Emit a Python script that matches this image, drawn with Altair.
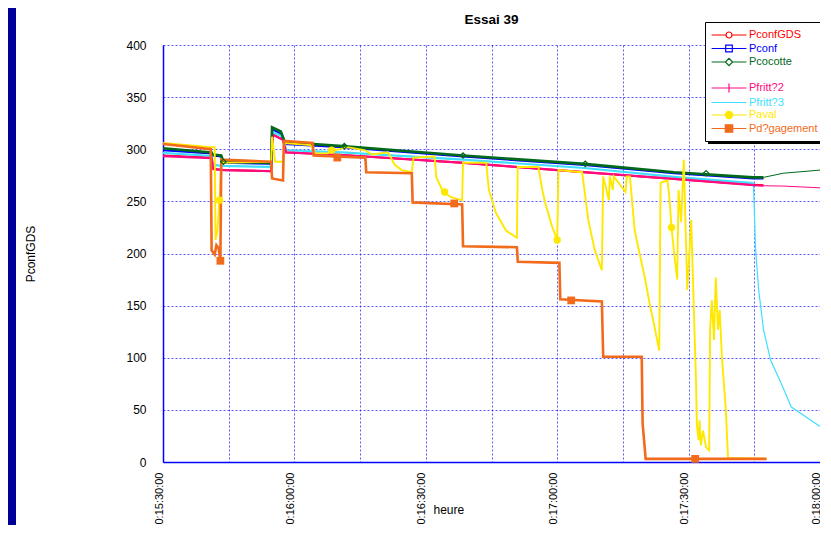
import json
import altair as alt
import pandas as pd

# ---------------- data (x = minutes after 0:15:30:00) ----------------
SERIES = ["PconfGDS", "Pconf", "Pcocotte", " ", "Pfritt?2", "Pfritt?3", "Paval", "Pd?gagement"]
COLORS = ["#ff0000", "#0000ff", "#006a1a", "#ffffff", "#ff0a80", "#40dfff", "#ffe800", "#f26a1b"]

X_GRID = [0, 15, 30, 45, 60, 75, 90, 105, 120, 135, 150]
X_TICK_LABELS = ["0:15:30:00", "0:16:00:00", "0:16:30:00", "0:17:00:00", "0:17:30:00", "0:18:00:00"]
Y_TICKS = [0, 50, 100, 150, 200, 250, 300, 350, 400]

PCONFGDS_T = [0, 11.1, 11.5, 13.8, 24.7, 25.1, 27.4, 28.1, 40.9, 68.5, 96.2, 116.7, 134.8, 137.1]
PCONFGDS_V = [294, 292, 281, 280, 279, 314, 309, 297, 294.5, 287, 278, 271.5, 266, 265.5]

PCONF_T = [0, 11.1, 11.3, 13.3, 13.8, 24.7, 24.9, 26.9, 27.8, 40.9, 68.5, 96.2, 116.7, 134.8, 137.1]
PCONF_V = [299, 296, 294, 293, 287, 286, 319, 315, 305, 302, 293, 285, 277, 272, 272]

PCOCOTTE_T = [0, 11.1, 11.3, 13.3, 13.8, 24.7, 24.9, 26.9, 27.8, 40.9, 68.5, 96.2, 116.7, 134.8, 137.1]
PCOCOTTE_V = [301, 297, 295, 294, 288, 287, 321, 317, 307, 303, 294, 286, 278, 273, 273]
PCOCOTTE_TAIL_T = [137.1, 141.6, 150]
PCOCOTTE_TAIL_V = [273, 277, 280]

PFRITT2_T = [0, 11.1, 11.5, 13.8, 24.7, 25.1, 27.4, 28.1, 40.9, 68.5, 96.2, 116.7, 134.8, 137.1]
PFRITT2_V = [293.5, 291.5, 281, 280, 279, 314, 309, 297, 294.5, 287, 278, 271.5, 265.5, 265]
PFRITT2_TAIL_T = [137.1, 141.6, 150]
PFRITT2_TAIL_V = [265, 264.7, 263]

PFRITT3_T = [0, 11.1, 11.3, 13.8, 24.7, 25.1, 27.4, 28.1, 40.9, 68.5, 96.2, 116.7, 134.8]
PFRITT3_V = [296.5, 293.5, 285, 284, 283, 316.5, 312, 299, 297, 290, 282, 273.5, 267.5]
PFRITT3_TAIL_T = [134.8, 135.3, 136.0, 137.1, 138.7, 141.6, 143.4, 150]
PFRITT3_TAIL_V = [267.5, 203, 165, 127, 98, 71, 53, 34]

PAVAL_T = [0, 10.9, 11.8, 12.0, 12.4, 12.9, 13.3, 24.7, 24.9, 25.6, 27.4, 27.6, 33.7, 34.8,
           37.6, 39.1, 42.1, 46.2, 47.7, 51.4, 52.9, 54.5, 56.8, 57.2, 62.0, 62.4, 64.0, 65.8,
           68.3, 68.5, 73.8, 74.4, 76.0, 78.3, 80.8, 81.0, 85.7, 86.6, 87.3, 88.9, 90.0, 90.3,
           95.7, 97.1, 98.6, 100.2, 100.5, 101.8, 102.0, 102.7, 102.9, 105.6, 105.9, 106.6,
           107.7, 108.8, 110.0, 111.1, 112.2, 113.3, 113.6, 115.2, 115.6, 116.1, 116.7, 117.4,
           117.7, 118.3, 118.9, 119.7, 120.1, 120.6, 121.2, 121.7, 121.9, 122.3, 122.5, 122.8,
           123.3, 124.0, 124.7, 124.9, 125.3, 125.8, 126.2, 126.7, 127.1, 127.6, 128.5, 129.0,
           137.8]
PAVAL_V = [306, 302, 302, 213, 222, 251, 287, 288, 312, 288, 288, 306, 304, 296,
           296, 299, 302, 299, 295, 297, 285, 280, 278, 292, 293, 273, 259, 254,
           251, 287, 287, 261, 239, 222, 215, 283, 283, 261, 248, 225, 213, 280,
           278, 232, 203, 184, 274, 251, 274, 261, 274, 259, 274, 274,
           222, 200, 177, 152, 130, 107, 268, 270, 254, 225, 200, 175,
           261, 230, 290, 165, 194, 232, 146, 76, 35, 21, 40, 16,
           30, 14, 11, 127, 155, 117, 177, 127, 146, 101, 50, 4,
           3]

PDEG_T = [0, 10.9, 11.1, 11.8, 12.2, 12.7, 13.1, 13.3, 24.7, 24.9, 27.4, 27.6, 34.2, 34.4,
          46.2, 46.4, 56.8, 57.0, 68.3, 68.5, 80.8, 81.0, 90.5, 90.7, 100.2, 100.5, 109.3,
          109.5, 110.2, 137.8]
PDEG_V = [305, 300, 203, 199, 208, 205, 192, 290, 288, 272, 270, 308, 306, 294,
          292, 278, 277, 249, 247, 207, 206, 192, 191, 156, 154, 101, 101,
          37, 3, 3]

# sparse markers
DIAMOND_T = [13.8, 41.4, 68.5, 96.4, 124.0]
DIAMOND_V = [288, 303, 294, 286, 277]
CIRCLE_T = [12.9, 38.5, 64.3, 90.0, 116.1]
CIRCLE_V = [251, 299, 259, 213, 225]
SQUARE_T = [13.1, 39.8, 66.5, 93.2, 121.5]
SQUARE_V = [193, 292, 248, 155, 3]

# legend symbols: line with marker (unit = 6 px). Hollow markers are drawn twice with
# opposite winding so that they stay unfilled.
LINE = "M-2.9,0H2.9"
SHAPES = [
    "M-2.9,0H-0.5M0.5,0H2.9"
    "M-0.5,0A0.5,0.5,0,1,0,0.5,0A0.5,0.5,0,1,0,-0.5,0"
    "M-0.5,0A0.5,0.5,0,1,1,0.5,0A0.5,0.5,0,1,1,-0.5,0",
    LINE + "M-0.55,-0.55H0.55V0.55H-0.55ZM-0.55,-0.55V0.55H0.55V-0.55Z",
    "M-2.9,0H-0.6M0.6,0H2.9M0,-0.6L0.6,0L0,0.6L-0.6,0ZM0,-0.6L-0.6,0L0,0.6L0.6,0Z",
    "M0,0",
    LINE + "M0,-0.75V0.75",
    LINE,
    LINE + "M-0.6,0A0.6,0.6,0,1,0,0.6,0A0.6,0.6,0,1,0,-0.6,0"
           "M-0.4,0A0.4,0.4,0,1,0,0.4,0A0.4,0.4,0,1,0,-0.4,0"
           "M-0.2,0A0.2,0.2,0,1,0,0.2,0A0.2,0.2,0,1,0,-0.2,0",
    LINE + "M-0.62,-0.62H0.62V0.62H-0.62ZM-0.62,-0.4H0.62M-0.62,-0.2H0.62"
           "M-0.62,0.2H0.62M-0.62,0.4H0.62",
]

segments = [
    ("PconfGDS", PCONFGDS_T, PCONFGDS_V, 2.0),
    ("Pconf", PCONF_T, PCONF_V, 2.0),
    ("Pfritt?3", PFRITT3_T, PFRITT3_V, 2.2),
    ("Pfritt?3", PFRITT3_TAIL_T, PFRITT3_TAIL_V, 1.2),
    ("Pfritt?2", PFRITT2_T, PFRITT2_V, 2.2),
    ("Pfritt?2", PFRITT2_TAIL_T, PFRITT2_TAIL_V, 1.0),
    ("Pcocotte", PCOCOTTE_T, PCOCOTTE_V, 2.6),
    ("Pcocotte", PCOCOTTE_TAIL_T, PCOCOTTE_TAIL_V, 1.0),
    ("Paval", PAVAL_T, PAVAL_V, 1.9),
    ("Pd?gagement", PDEG_T, PDEG_V, 2.6),
]

rows = []
for k, (name, ts, vs, w) in enumerate(segments):
    for i, (t, v) in enumerate(zip(ts, vs)):
        rows.append({"series": name, "seg": k, "t": t, "v": v, "i": i})
lines_df = pd.DataFrame(rows)

def mk(name, ts, vs):
    return pd.DataFrame({"series": name, "t": ts, "v": vs})

diam_df = mk("Pcocotte", DIAMOND_T, DIAMOND_V)
circ_df = mk("Paval", CIRCLE_T, CIRCLE_V)
sq_df = mk("Pd?gagement", SQUARE_T, SQUARE_V)
legend_df = pd.DataFrame({"series": SERIES})

# ---------------- encodings ----------------
FONT = "Liberation Sans"
BLUE = "#0000ff"

x_label_expr = ("datum.value % 30 == 0 ? " + json.dumps(X_TICK_LABELS)
                + "[round(datum.value / 30)] : ''")

x_axis = alt.Axis(values=X_GRID, labelExpr=x_label_expr, labelAngle=270, labelAlign="right",
                  labelBaseline="middle", labelPadding=10, labelOffset=-4, labelFontSize=11,
                  labelFont=FONT, labelColor="black", labelOverlap=False, ticks=False, tickSize=0,
                  domainColor=BLUE, domainWidth=1.5, grid=True, gridColor=BLUE, gridDash=[2, 2],
                  gridOpacity=0.65, gridWidth=1, title="heure", titleX=270, titleY=51,
                  titleAlign="left", titleBaseline="alphabetic", titleFontSize=12,
                  titleFontWeight="normal", titleFont=FONT, titleColor="black")
y_axis = alt.Axis(values=Y_TICKS, labelPadding=17, ticks=False, tickSize=0, labelFontSize=12,
                  labelFont=FONT, labelColor="black", domainColor=BLUE, domainWidth=1.5,
                  grid=True, gridColor=BLUE, gridDash=[2, 2], gridOpacity=0.65, gridWidth=1,
                  title="PconfGDS", titleX=-133, titleY=208.5, titleAngle=270,
                  titleAlign="center", titleBaseline="middle", titleFontSize=12,
                  titleFontWeight="normal", titleFont=FONT, titleColor="black")

x_enc = alt.X("t:Q", scale=alt.Scale(domain=[0, 150], nice=False, zero=False), axis=x_axis)
y_enc = alt.Y("v:Q", scale=alt.Scale(domain=[0, 400], nice=False), axis=y_axis)
cscale = alt.Scale(domain=SERIES, range=COLORS)
sscale = alt.Scale(domain=SERIES, range=SHAPES)

legend = alt.Legend(title=None, orient="none", legendX=542, legendY=-23, direction="vertical",
                    fillColor="white", strokeColor="black", padding=6, symbolSize=144,
                    symbolStrokeWidth=1.2, symbolOffset=11, labelOffset=13, rowPadding=0.5,
                    symbolFillColor="transparent",
                    labelFontSize=11, labelFont=FONT, labelLimit=300,
                    labelColor=alt.ExprRef(expr="scale('color', datum.value)"))

# ---------------- layers ----------------
layers = []

# legend-only layer first, so its (enabled) legend wins the merge
layers.append(alt.Chart(legend_df).transform_filter("false").mark_point(
    filled=False, opacity=1, strokeWidth=1.2).encode(
    color=alt.Color("series:N", scale=cscale, legend=legend),
    shape=alt.Shape("series:N", scale=sscale, legend=legend)))

# page decoration: dark blue frame strip and the legend's drop shadow
layers.append(alt.Chart(pd.DataFrame({"k": [0]})).mark_rect(color="#000099").encode(
    x=alt.value(-155), x2=alt.value(-147), y=alt.value(-37), y2=alt.value(480)))
layers.append(alt.Chart(pd.DataFrame({"k": [0]})).mark_rect(color="black").encode(
    x=alt.value(545), x2=alt.value(700), y=alt.value(-20), y2=alt.value(99)))

for k, (name, ts, vs, w) in enumerate(segments):
    layers.append(
        alt.Chart(lines_df).transform_filter(alt.datum.seg == k).mark_line(strokeWidth=w).encode(
            x=x_enc, y=y_enc, order=alt.Order("i:Q"),
            color=alt.Color("series:N", scale=cscale, legend=None)))

layers.append(alt.Chart(diam_df).mark_point(shape="diamond", filled=False, size=30, strokeWidth=1.2,
                                            opacity=1).encode(
    x=x_enc, y=y_enc, color=alt.Color("series:N", scale=cscale, legend=None)))
layers.append(alt.Chart(circ_df).mark_circle(size=55, opacity=1).encode(
    x=x_enc, y=y_enc, color=alt.Color("series:N", scale=cscale, legend=None)))
layers.append(alt.Chart(sq_df).mark_square(size=60, opacity=1).encode(
    x=x_enc, y=y_enc, color=alt.Color("series:N", scale=cscale, legend=None)))

chart = alt.layer(*layers).properties(
    width=657, height=417,
    title=alt.TitleParams("Essai 39", fontSize=13.5, fontWeight="bold", font=FONT, offset=0,
                          dy=18, frame="group", anchor="middle", color="black"),
    autosize=alt.AutoSizeParams(type="none"),
    padding={"left": 155, "top": 37, "right": 0, "bottom": 63},
    background="white",
).configure_view(strokeWidth=0)

chart.save("out.html", embed_options={"renderer": "svg", "actions": False})
